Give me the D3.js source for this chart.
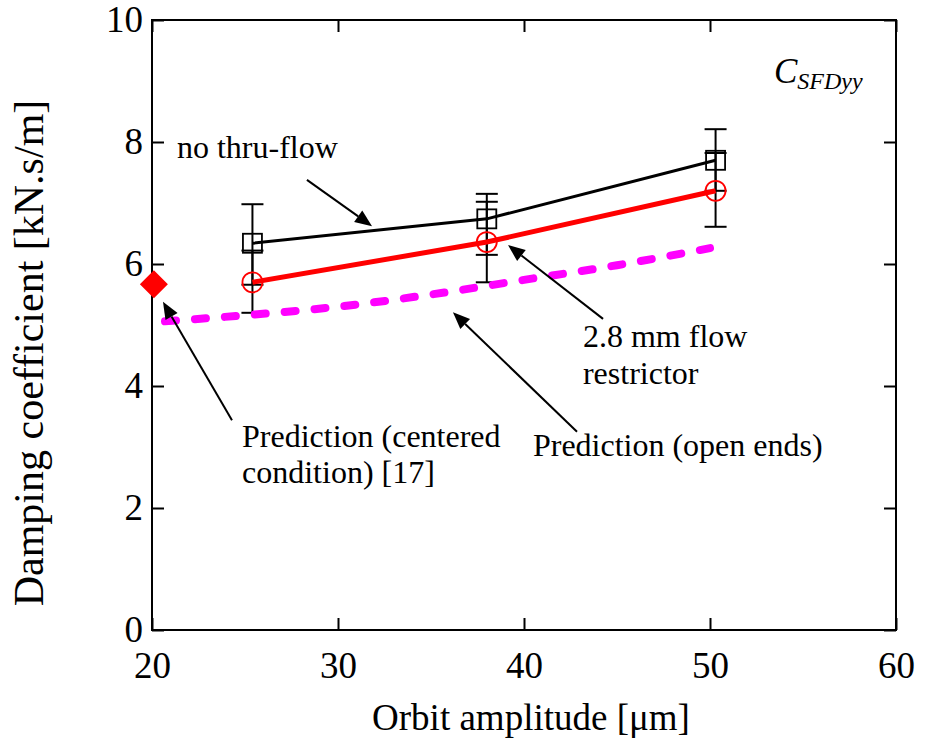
<!DOCTYPE html>
<html>
<head>
<meta charset="utf-8">
<script src="https://cdn.jsdelivr.net/npm/d3@7"></script>
<style>
  body { margin: 0; background: #fff; }
  text { font-family: "Liberation Serif", "Times New Roman", serif; fill: #000; }
</style>
</head>
<body>
<div id="chart"></div>
<script>
// Data
let amplitude = [25.4, 38.0, 50.3];
let noThruFlow = [6.34, 6.74, 7.70];
let noThruLo = [5.66, 6.15, 7.20];
let noThruHi = [6.98, 7.15, 8.21];
let restrictor = [5.70, 6.36, 7.20];
let restrictorLo = [5.20, 5.70, 6.61];
let restrictorHi = [6.22, 7.02, 7.82];
let predAmp = [20.7, 25, 30, 35, 40, 45, 50];
let predOpen = [5.06, 5.16, 5.30, 5.50, 5.74, 5.98, 6.26];
let centeredAmp = [20.1];
let centeredPred = [5.67];
let xTicks = [20, 30, 40, 50, 60];
let yTicks = [0, 2, 4, 6, 8, 10];

// SVG setup
let svgWidth = 927;
let svgHeight = 747;
let margin = { top: 20, right: 31, bottom: 117, left: 152 };
let width = svgWidth - margin.left - margin.right;
let height = svgHeight - margin.top - margin.bottom;

let svg = d3.select('#chart').append('svg')
  .attr('width', svgWidth)
  .attr('height', svgHeight);

let g = svg.append('g')
  .attr('transform', `translate(${margin.left}, ${margin.top})`);

let x = d3.scaleLinear().domain([20, 60]).range([0, width]);
let y = d3.scaleLinear().domain([0, 10]).range([height, 0]);

// Axes (ticks inside, mirrored)
let tickLen = 12;
let bottomAxis = g.append('g')
  .attr('transform', `translate(0, ${height})`)
  .call(d3.axisBottom(x).tickValues(xTicks).tickSizeInner(-tickLen).tickSizeOuter(0).tickPadding(22));
let leftAxis = g.append('g')
  .call(d3.axisLeft(y).tickValues(yTicks).tickSizeInner(-tickLen).tickSizeOuter(0).tickPadding(9));
let topAxis = g.append('g')
  .call(d3.axisTop(x).tickValues(xTicks).tickSizeInner(-tickLen).tickSizeOuter(0).tickFormat(''));
let rightAxis = g.append('g')
  .attr('transform', `translate(${width}, 0)`)
  .call(d3.axisRight(y).tickValues(yTicks).tickSizeInner(-tickLen).tickSizeOuter(0).tickFormat(''));

[bottomAxis, leftAxis, topAxis, rightAxis].forEach(a => {
  a.select('.domain').remove();
  a.selectAll('line').attr('stroke', '#000').attr('stroke-width', 2);
  a.selectAll('text').attr('font-size', '37px').style('font-family', '"Liberation Serif", serif');
});

// Frame
g.append('rect')
  .attr('width', width)
  .attr('height', height)
  .attr('fill', 'none')
  .attr('stroke', '#000')
  .attr('stroke-width', 2);

// Error bars
function errorBars(lo, hi) {
  let eb = g.append('g').attr('stroke', '#000').attr('stroke-width', 2);
  amplitude.forEach((a, i) => {
    let cx = x(a);
    eb.append('line').attr('x1', cx).attr('x2', cx).attr('y1', y(lo[i])).attr('y2', y(hi[i]));
    eb.append('line').attr('x1', cx - 11).attr('x2', cx + 11).attr('y1', y(lo[i])).attr('y2', y(lo[i]));
    eb.append('line').attr('x1', cx - 11).attr('x2', cx + 11).attr('y1', y(hi[i])).attr('y2', y(hi[i]));
  });
}
errorBars(noThruLo, noThruHi);
errorBars(restrictorLo, restrictorHi);

let line = d3.line()
  .x(d => x(d[0]))
  .y(d => y(d[1]));

// no thru-flow (black, squares)
g.append('path')
  .datum(d3.zip(amplitude, noThruFlow))
  .attr('d', line)
  .attr('fill', 'none')
  .attr('stroke', '#000')
  .attr('stroke-width', 3);

g.selectAll('.sq')
  .data(d3.zip(amplitude, noThruFlow))
  .enter()
  .append('rect')
  .attr('x', d => x(d[0]) - 9.5)
  .attr('y', d => y(d[1]) - 9.5)
  .attr('width', 19)
  .attr('height', 19)
  .attr('fill', 'none')
  .attr('stroke', '#000')
  .attr('stroke-width', 1.8);

// 2.8 mm flow restrictor (red, circles)
g.append('path')
  .datum(d3.zip(amplitude, restrictor))
  .attr('d', line)
  .attr('fill', 'none')
  .attr('stroke', '#ff0000')
  .attr('stroke-width', 5);

g.selectAll('.circ')
  .data(d3.zip(amplitude, restrictor))
  .enter()
  .append('circle')
  .attr('cx', d => x(d[0]))
  .attr('cy', d => y(d[1]))
  .attr('r', 10)
  .attr('fill', 'none')
  .attr('stroke', '#ff0000')
  .attr('stroke-width', 1.8);

// Prediction (open ends) magenta dashed
g.append('path')
  .datum(d3.zip(predAmp, predOpen))
  .attr('d', d3.line().x(d => x(d[0])).y(d => y(d[1])).curve(d3.curveMonotoneX))
  .attr('fill', 'none')
  .attr('stroke', '#ff00ff')
  .attr('stroke-width', 8)
  .attr('stroke-linecap', 'round')
  .attr('stroke-dasharray', '11,19');

// Centered prediction diamond
g.selectAll('.dia')
  .data(d3.zip(centeredAmp, centeredPred))
  .enter()
  .append('path')
  .attr('d', 'M0,-14L14,0L0,14L-14,0Z')
  .attr('transform', d => `translate(${x(d[0])}, ${y(d[1])})`)
  .attr('fill', '#ff0000');

// Annotation arrows [tailX, tailY, tipX, tipY] in data units
let arrows = [
  [28.33, 7.38, 31.83, 6.62],
  [44.25, 5.10, 39.14, 6.31],
  [42.85, 3.25, 36.18, 5.21],
  [24.30, 3.44, 20.59, 5.38]
];

arrows.forEach(a => {
  let x1 = x(a[0]), y1 = y(a[1]), x2 = x(a[2]), y2 = y(a[3]);
  let ang = Math.atan2(y2 - y1, x2 - x1);
  let hl = 17, hw = 7;
  let bx = x2 - hl * Math.cos(ang), by = y2 - hl * Math.sin(ang);
  g.append('line')
    .attr('x1', x1).attr('y1', y1).attr('x2', bx).attr('y2', by)
    .attr('stroke', '#000').attr('stroke-width', 2);
  let px = -Math.sin(ang) * hw, py = Math.cos(ang) * hw;
  g.append('path')
    .attr('d', `M${x2},${y2}L${bx + px},${by + py}L${bx - px},${by - py}Z`)
    .attr('fill', '#000');
});

// Annotation labels
let labels = [
  ['no thru-flow', 21.34, 7.74],
  ['2.8 mm flow', 43.17, 4.64],
  ['restrictor', 43.17, 4.03],
  ['Prediction (open ends)', 40.48, 2.85],
  ['Prediction (centered', 24.84, 3.00],
  ['condition) [17]', 24.84, 2.41]
];
g.selectAll('.lab')
  .data(labels)
  .enter()
  .append('text')
  .attr('x', d => x(d[1]))
  .attr('y', d => y(d[2]))
  .attr('font-size', '32px')
  .text(d => d[0]);

// C_SFDyy
let cLab = g.append('text')
  .attr('x', x(53.44))
  .attr('y', y(8.97))
  .attr('font-style', 'italic')
  .attr('font-size', '35px');
cLab.append('tspan').text('C');
cLab.append('tspan').attr('font-size', '24px').attr('dy', 6).text('SFDyy');

// Axis titles
g.append('text')
  .attr('x', width / 2 + 7)
  .attr('y', height + 100)
  .attr('text-anchor', 'middle')
  .attr('font-size', '37px')
  .text('Orbit amplitude [\u03bcm]');

g.append('text')
  .attr('transform', `translate(${-109}, ${height / 2 + 28}) rotate(-90)`)
  .attr('text-anchor', 'middle')
  .attr('font-size', '42px')
  .text('Damping coefficient [kN.s/m]');
</script>
</body>
</html>
